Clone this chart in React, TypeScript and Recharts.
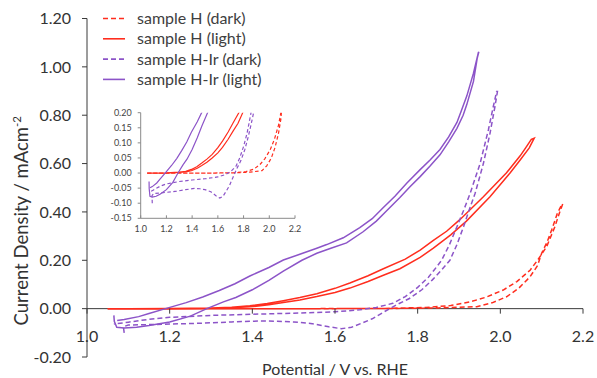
import React from 'react';
import { LineChart, Line, XAxis, YAxis, ReferenceLine } from 'recharts';

// ---------- data (potential V vs RHE, current density mA cm^-2) ----------
const seriesNames = ['sample H (dark)', 'sample H (light)', 'sample H-Ir (dark)', 'sample H-Ir (light)'];

const xTicksMain = [1.0, 1.2, 1.4, 1.6, 1.8, 2.0, 2.2];
const yTicksMain = [-0.2, 0, 0.2, 0.4, 0.6, 0.8, 1.0, 1.2];
const xTicksInset = [1.0, 1.2, 1.4, 1.6, 1.8, 2.0, 2.2];
const yTicksInset = [-0.15, -0.1, -0.05, 0, 0.05, 0.1, 0.15, 0.2];

const hDark: [number, number][] = [
  [1.05, 0], [1.2, 0], [1.4, 0], [1.6, 0], [1.75, 0.001], [1.85, 0.003], [1.943, 0.008], [1.98, 0.024],
  [2.015, 0.049], [2.045, 0.085], [2.072, 0.132], [2.09, 0.178], [2.1, 0.229], [2.113, 0.275], [2.124, 0.325],
  [2.138, 0.394], [2.148, 0.428], [2.151, 0.433], [2.144, 0.401], [2.132, 0.339], [2.112, 0.256], [2.09, 0.2],
  [2.072, 0.159], [2.04, 0.112], [2.007, 0.077], [1.965, 0.047], [1.927, 0.028], [1.88, 0.013], [1.82, 0.005],
  [1.72, 0.001], [1.55, 0], [1.3, 0], [1.05, 0],
];

const hLight: [number, number][] = [
  [1.05, 0], [1.2, 0], [1.3, 0.002], [1.35, 0.004], [1.394, 0.0075], [1.44, 0.016], [1.475, 0.025], [1.515, 0.036],
  [1.556, 0.05], [1.6, 0.067], [1.636, 0.085], [1.68, 0.112], [1.717, 0.138], [1.757, 0.165], [1.806, 0.212],
  [1.838, 0.25], [1.88, 0.305], [1.918, 0.362], [1.975, 0.463], [2.023, 0.56], [2.048, 0.615], [2.07, 0.665],
  [2.082, 0.705],
  [2.075, 0.7], [2.06, 0.662], [2.048, 0.632], [2.015, 0.562], [1.959, 0.463], [1.902, 0.368], [1.87, 0.32],
  [1.838, 0.282], [1.806, 0.242], [1.77, 0.205], [1.717, 0.165], [1.68, 0.136], [1.636, 0.106], [1.6, 0.084],
  [1.556, 0.062], [1.515, 0.046], [1.475, 0.033], [1.436, 0.021], [1.394, 0.012], [1.35, 0.006], [1.3, 0.003],
  [1.2, 0.001], [1.1, 0], [1.05, 0],
];

const hIrDark: [number, number][] = [
  [1.09, -0.1], [1.088, -0.075], [1.1, -0.068], [1.15, -0.066], [1.2, -0.064], [1.28, -0.06], [1.35, -0.055],
  [1.42, -0.051], [1.46, -0.052], [1.5, -0.055], [1.545, -0.062], [1.585, -0.075], [1.615, -0.083], [1.64, -0.077],
  [1.665, -0.06], [1.69, -0.042], [1.72, -0.012], [1.748, 0.015], [1.78, 0.042], [1.81, 0.078], [1.835, 0.118],
  [1.858, 0.16], [1.878, 0.2], [1.895, 0.265], [1.911, 0.339], [1.925, 0.41], [1.939, 0.477], [1.959, 0.6],
  [1.975, 0.725], [1.987, 0.836], [1.993, 0.898],
  [1.991, 0.898], [1.983, 0.836], [1.971, 0.739], [1.951, 0.6], [1.927, 0.477], [1.912, 0.41], [1.895, 0.339],
  [1.877, 0.265], [1.858, 0.2], [1.84, 0.16], [1.826, 0.13], [1.8, 0.088], [1.77, 0.05], [1.74, 0.022],
  [1.7, 0.005], [1.66, -0.005], [1.6, -0.013], [1.5, -0.019], [1.4, -0.023], [1.3, -0.028], [1.2, -0.036],
  [1.15, -0.044], [1.1, -0.056], [1.065, -0.064],
];

const hIrLight: [number, number][] = [
  [1.065, -0.028], [1.066, -0.052], [1.072, -0.077], [1.09, -0.08], [1.12, -0.077], [1.15, -0.07], [1.2, -0.055],
  [1.25, -0.031], [1.29, 0], [1.33, 0.028], [1.36, 0.046], [1.4, 0.078], [1.44, 0.117], [1.475, 0.155], [1.52, 0.2],
  [1.556, 0.229], [1.59, 0.25], [1.628, 0.272], [1.668, 0.318], [1.7, 0.362], [1.725, 0.405], [1.757, 0.46],
  [1.782, 0.505], [1.806, 0.546], [1.83, 0.59], [1.854, 0.636], [1.875, 0.69], [1.895, 0.746], [1.91, 0.8],
  [1.919, 0.845], [1.935, 0.94], [1.944, 1.035], [1.948, 1.062],
  [1.947, 1.06], [1.935, 0.974], [1.919, 0.88], [1.905, 0.815], [1.895, 0.77], [1.875, 0.71], [1.854, 0.658],
  [1.83, 0.615], [1.806, 0.575], [1.774, 0.52], [1.745, 0.465], [1.717, 0.418], [1.69, 0.372], [1.66, 0.335],
  [1.62, 0.293], [1.58, 0.265], [1.556, 0.25], [1.52, 0.228], [1.475, 0.201], [1.44, 0.17], [1.394, 0.135],
  [1.358, 0.103], [1.32, 0.075], [1.28, 0.048], [1.24, 0.025], [1.19, 0], [1.15, -0.02], [1.125, -0.033],
  [1.09, -0.045], [1.073, -0.049],
];

// ---------- styling / layout ----------
const toPts = (a: [number, number][]) => a.map(([v, j]) => ({ v, j }));
const seriesData = [hDark, hLight, hIrDark, hIrLight].map(toPts);
const RED = '#ff2d1e';
const PURPLE = '#8c54c8';
const seriesStyle = [
  { color: RED, dashed: true },
  { color: RED, dashed: false },
  { color: PURPLE, dashed: true },
  { color: PURPLE, dashed: false },
];

const FONT = 'Lato, "Open Sans", sans-serif';
const AXIS = '#3a3a3a';
const TEXT = '#333333';

const W = 597;
const H = 378;
const M = { top: 18.5, right: 14, bottom: 0, left: 0 };
const Y_W = 87;
const X_H = 21;
const Y_DOM: [number, number] = [-0.2, 1.2];
const PLOT_H = H - M.top - M.bottom - X_H;
const ZERO_OFFSET = (PLOT_H * (0 - Y_DOM[0])) / (Y_DOM[1] - Y_DOM[0]);

const MainXTick = (props: any) => {
  const { x, y, payload } = props;
  const y0 = y - ZERO_OFFSET;
  return (
    <g>
      <line x1={x} x2={x} y1={y0} y2={y0 + 5} stroke={AXIS} strokeWidth={1} />
      <text x={x} y={y0 + 33} textAnchor="middle" fontSize={16} fontFamily={FONT} fill={TEXT}>
        {Number(payload.value).toFixed(1)}
      </text>
    </g>
  );
};

const InsetXTick = (props: any) => {
  const { x, y, payload } = props;
  return (
    <g>
      <line x1={x} x2={x} y1={y} y2={y - 3} stroke="#8a8a8a" strokeWidth={1} />
      <text x={x} y={y + 13.5} textAnchor="middle" fontSize={9} fontFamily={FONT} fill="#444">
        {Number(payload.value).toFixed(1)}
      </text>
    </g>
  );
};

const YLabel = (props: any) => {
  const vb = props.viewBox || { x: 0, y: M.top, width: Y_W, height: PLOT_H };
  const cx = vb.x + 28;
  const cy = vb.y + vb.height / 2 + 33;
  return (
    <text
      x={cx}
      y={cy}
      transform={`rotate(-90 ${cx} ${cy})`}
      textAnchor="middle"
      fontSize={18.5}
      fontFamily={FONT}
      fill={TEXT}
    >
      Current Density / mAcm
      <tspan dy={-7} fontSize={11.5}>-2</tspan>
    </text>
  );
};

const XLabel = (props: any) => {
  const vb = props.viewBox || { x: Y_W, y: H - X_H, width: W - Y_W - M.right, height: X_H };
  return (
    <text
      x={vb.x + vb.width / 2}
      y={vb.y + vb.height - 3}
      textAnchor="middle"
      fontSize={16}
      fontFamily={FONT}
      fill={TEXT}
    >
      Potential / V vs. RHE
    </text>
  );
};

const Legend = () => (
  <svg width={220} height={95} style={{ position: 'absolute', left: 95, top: 6 }}>
    {seriesNames.map((name, i) => {
      const cy = 12.5 + i * 20.3;
      const st = seriesStyle[i];
      return (
        <g key={name}>
          <line
            x1={8}
            x2={30}
            y1={cy}
            y2={cy}
            stroke={st.color}
            strokeWidth={1.6}
            strokeDasharray={st.dashed ? '5 3' : undefined}
          />
          <text x={42} y={cy + 5.5} fontSize={16} fontFamily={FONT} fill="#404040">
            {name}
          </text>
        </g>
      );
    })}
  </svg>
);

export default function App() {
  return (
    <div style={{ position: 'absolute', left: 0, top: 0, width: W, height: H, background: '#fff', fontFamily: FONT }}>
      <LineChart width={W} height={H} margin={M}>
        <XAxis
          type="number"
          dataKey="v"
          domain={[1.0, 2.2]}
          ticks={xTicksMain}
          interval={0}
          height={X_H}
          axisLine={false}
          tickLine={false}
          tickSize={0}
          tickMargin={0}
          tick={<MainXTick />}
          label={{ content: <XLabel /> }}
          allowDataOverflow
        />
        <YAxis
          type="number"
          domain={Y_DOM}
          ticks={yTicksMain}
          interval={0}
          width={Y_W}
          tickSize={5}
          tickMargin={11}
          axisLine={{ stroke: AXIS }}
          tickLine={{ stroke: AXIS }}
          tick={{ fontSize: 16, fontFamily: FONT, fill: TEXT }}
          tickFormatter={(v: number) => v.toFixed(2)}
          label={{ content: <YLabel /> }}
        />
        <ReferenceLine y={0} stroke={AXIS} strokeWidth={1} />
        {seriesData.map((d, i) => (
          <Line
            key={seriesNames[i]}
            data={d}
            dataKey="j"
            name={seriesNames[i]}
            type="linear"
            stroke={seriesStyle[i].color}
            strokeWidth={1.5}
            strokeDasharray={seriesStyle[i].dashed ? '5 3' : undefined}
            dot={false}
            activeDot={false}
            isAnimationActive={false}
          />
        ))}
      </LineChart>

      <div style={{ position: 'absolute', left: 100, top: 100, width: 210, height: 145 }}>
        <LineChart width={210} height={145} margin={{ top: 12.7, right: 15, bottom: 6.7, left: 0 }}>
          <XAxis
            type="number"
            dataKey="v"
            domain={[1.0, 2.2]}
            ticks={xTicksInset}
            interval={0}
            height={20}
            axisLine={{ stroke: '#8a8a8a' }}
            tickLine={false}
            tickSize={0}
            tickMargin={0}
            tick={<InsetXTick />}
            allowDataOverflow
          />
          <YAxis
            type="number"
            domain={[-0.15, 0.2]}
            ticks={yTicksInset}
            interval={0}
            width={40.7}
            tickSize={3}
            tickMargin={6}
            axisLine={{ stroke: '#8a8a8a' }}
            tickLine={{ stroke: '#8a8a8a' }}
            tick={{ fontSize: 9, fontFamily: FONT, fill: '#444' }}
            tickFormatter={(v: number) => v.toFixed(2)}
            allowDataOverflow
          />
          {seriesData.map((d, i) => (
            <Line
              key={seriesNames[i]}
              data={d}
              dataKey="j"
              name={seriesNames[i]}
              type="linear"
              stroke={seriesStyle[i].color}
              strokeWidth={1.2}
              strokeDasharray={seriesStyle[i].dashed ? '3.5 2.5' : undefined}
              dot={false}
              activeDot={false}
              isAnimationActive={false}
            />
          ))}
        </LineChart>
      </div>

      <Legend />
    </div>
  );
}
